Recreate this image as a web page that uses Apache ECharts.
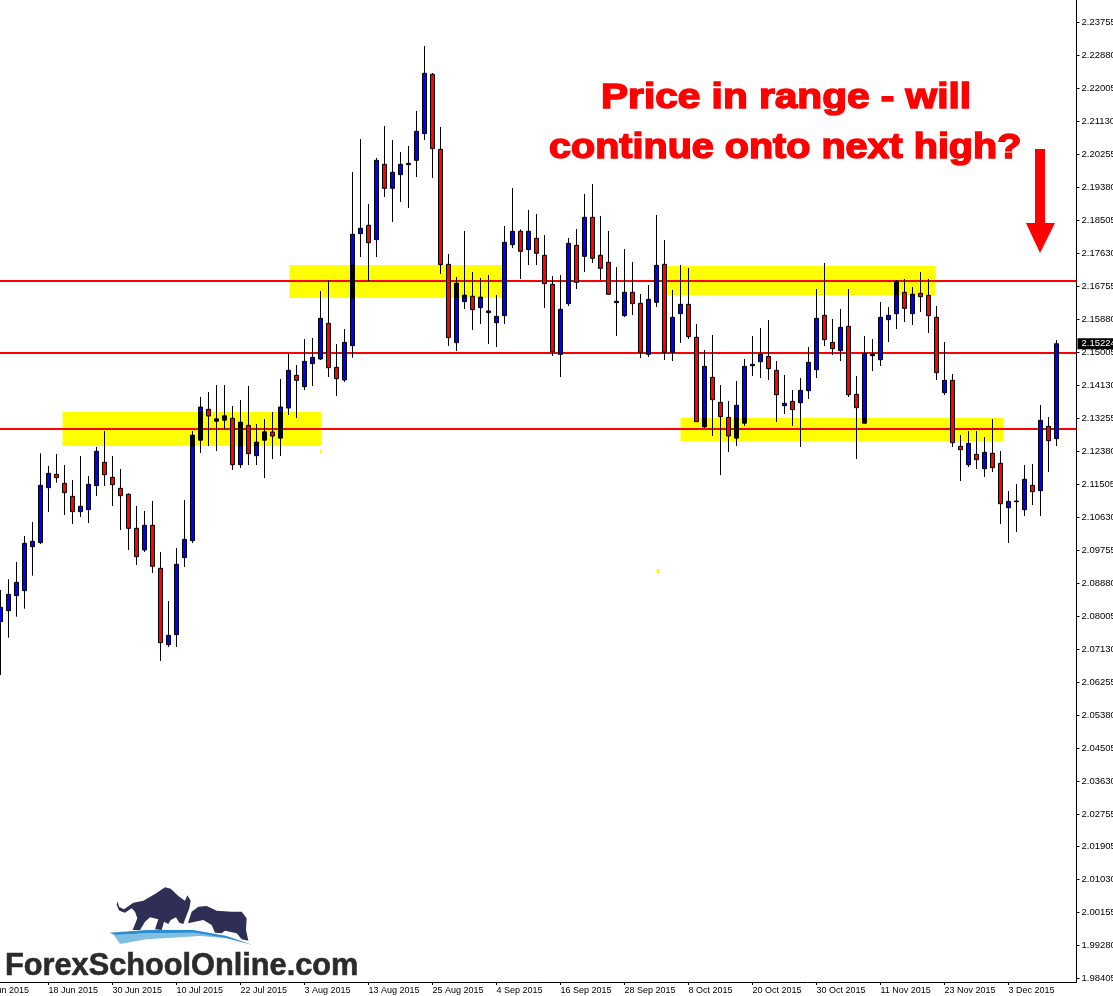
<!DOCTYPE html>
<html>
<head>
<meta charset="utf-8">
<title>Price in range</title>
<script src="https://cdn.jsdelivr.net/npm/echarts@6/dist/echarts.min.js"></script>
<style>
  html, body { margin: 0; padding: 0; background: #fff; overflow: hidden; }
  #chart { width: 1113px; height: 996px; }
</style>
</head>
<body>
<div id="chart"></div>
<script>
// daily candles, one row = 8 bars
const opens = [
  2.07855,2.08147,2.08545,2.08677,2.09844,2.09950,2.11408,2.11762,
  2.11523,2.11179,2.10772,2.10825,2.11461,2.12080,2.11682,2.11391,
  2.11232,2.10330,2.09756,2.10410,2.09270,2.07246,2.07511,2.09552,
  2.10003,2.12671,2.13485,2.13175,2.13202,2.13246,2.12017,2.13060,
  2.12256,2.12671,2.12884,2.12725,2.13520,2.14386,2.14086,2.14695,
  2.14819,2.15765,2.14598,2.14262,2.15174,2.18143,2.18364,2.17984,
  2.19981,2.19345,2.19707,2.19973,2.20087,2.20795,2.22368,2.20379,
  2.17330,2.15253,2.16340,2.16482,2.16181,2.16049,2.15783,2.15969,
  2.17851,2.18205,2.17719,2.18019,2.17569,2.16800,2.14944,2.16287,
  2.17834,2.17542,2.18576,2.17569,2.17383,2.16314,2.15969,2.16588,
  2.16296,2.14944,2.16322,2.17330,2.14997,2.16022,2.16269,2.15394,
  2.13025,2.14333,2.13670,2.13272,2.12725,2.13122,2.14642,2.14748,
  2.14890,2.14519,2.13582,2.13697,2.13661,2.13980,2.14536,2.15977,
  2.15261,2.15040,2.15685,2.13882,2.13122,2.14907,2.14801,2.15862,
  2.16021,2.16587,2.16021,2.16560,2.16507,2.15924,2.13926,2.14253,
  2.12504,2.12017,2.12291,2.11911,2.12318,2.12053,2.10877,2.11036,
  2.10824,2.11469,2.11328,2.13034,2.12707
];
const closes = [
  2.08235,2.08580,2.08898,2.09932,2.09985,2.11470,2.11788,2.11673,
  2.11276,2.10772,2.10913,2.11497,2.12372,2.11753,2.11488,2.11196,
  2.10330,2.09579,2.10410,2.09323,2.07299,2.07493,2.09376,2.10038,
  2.12796,2.13546,2.13308,2.13228,2.13308,2.12017,2.13140,2.12309,
  2.12610,2.12884,2.12778,2.13546,2.14519,2.14253,2.14757,2.14863,
  2.15897,2.14589,2.14298,2.15261,2.18125,2.18285,2.17904,2.20087,
  2.19345,2.19769,2.19981,2.20008,2.20856,2.22394,2.20397,2.17321,
  2.15386,2.16826,2.16508,2.16128,2.16455,2.16093,2.15951,2.17913,
  2.18205,2.17675,2.18205,2.17622,2.16817,2.15014,2.16137,2.17887,
  2.16853,2.18576,2.17489,2.17224,2.16535,2.16349,2.16588,2.16287,
  2.14997,2.16402,2.17303,2.14997,2.15925,2.16269,2.15412,2.13158,
  2.14625,2.13741,2.13290,2.12778,2.13591,2.14625,2.14678,2.14943,
  2.14563,2.13873,2.13644,2.13476,2.13988,2.14731,2.15897,2.15332,
  2.15093,2.15659,2.13873,2.13529,2.14969,2.14943,2.15924,2.15977,
  2.16878,2.16162,2.16534,2.16472,2.15968,2.14457,2.14253,2.12601,
  2.12415,2.12583,2.12150,2.12344,2.11938,2.10983,2.11045,2.11054,
  2.11629,2.11302,2.13193,2.12654,2.15224
];
const lows = [
  2.06441,2.07431,2.07988,2.08200,2.09075,2.09915,2.10763,2.11541,
  2.10684,2.10445,2.10631,2.10471,2.11187,2.11453,2.10922,2.10286,
  2.09756,2.09358,2.09703,2.09146,2.06813,2.07184,2.07184,2.09305,
  2.09941,2.12327,2.12512,2.12380,2.12954,2.11876,2.11929,2.12009,
  2.12009,2.11664,2.12168,2.12247,2.13334,2.13255,2.13997,2.14103,
  2.14793,2.14342,2.13838,2.14209,2.14855,2.17524,2.16888,2.17524,
  2.19115,2.18453,2.18983,2.18824,2.19646,2.20627,2.19619,2.17074,
  2.15165,2.15032,2.16146,2.15589,2.15748,2.15218,2.15138,2.15748,
  2.17763,2.16941,2.17312,2.17312,2.16172,2.14900,2.14343,2.16225,
  2.16676,2.17127,2.17365,2.16915,2.16517,2.15430,2.15934,2.15987,
  2.14847,2.14873,2.16199,2.14793,2.14767,2.15244,2.15350,2.13158,
  2.12990,2.12778,2.11743,2.12353,2.12512,2.13043,2.14368,2.14315,
  2.14262,2.13149,2.13361,2.13043,2.12486,2.13759,2.14315,2.15164,
  2.14925,2.14766,2.13812,2.12168,2.13122,2.14501,2.14634,2.15270,
  2.15615,2.15800,2.15721,2.16065,2.15508,2.14262,2.13865,2.12486,
  2.11584,2.11956,2.11903,2.11690,2.11823,2.10444,2.09941,2.10232,
  2.10656,2.10948,2.10656,2.11823,2.12512
];
const highs = [
  2.08695,2.08978,2.09438,2.10127,2.10498,2.12319,2.11983,2.12301,
  2.12009,2.11612,2.12248,2.11718,2.12487,2.12911,2.12248,2.11903,
  2.11258,2.10922,2.10790,2.11055,2.09703,2.08403,2.09809,2.11081,
  2.12911,2.13812,2.13944,2.14130,2.14130,2.13573,2.13732,2.14103,
  2.13096,2.13228,2.13414,2.14289,2.14952,2.14660,2.15349,2.15376,
  2.16622,2.16914,2.15217,2.15615,2.19778,2.20653,2.18930,2.20149,
  2.20998,2.20627,2.20308,2.20467,2.21396,2.23119,2.22403,2.20971,
  2.17604,2.16994,2.18214,2.17127,2.16968,2.17047,2.16517,2.18346,
  2.19354,2.18258,2.18771,2.18665,2.18108,2.17021,2.17047,2.18028,
  2.18267,2.19195,2.19460,2.18611,2.18214,2.17259,2.17737,2.17392,
  2.16543,2.16782,2.18638,2.17975,2.16649,2.17312,2.17233,2.15747,
  2.15058,2.15455,2.14130,2.13706,2.14236,2.14819,2.15429,2.15641,
  2.15853,2.14766,2.14395,2.13997,2.14315,2.15137,2.16675,2.17364,
  2.15880,2.16145,2.16675,2.14368,2.15429,2.15349,2.16330,2.16198,
  2.16914,2.16940,2.16728,2.17126,2.16940,2.16224,2.15270,2.14421,
  2.12804,2.12910,2.12910,2.12751,2.13228,2.12380,2.11319,2.11505,
  2.12009,2.12035,2.13599,2.13281,2.15323
];

const priceTicks = [
  2.23755,2.22880,2.22005,2.21130,2.20255,2.19380,2.18505,2.17630,2.16755,2.15880,
  2.15005,2.14130,2.13255,2.12380,2.11505,2.10630,2.09755,2.08880,2.08005,2.07130,
  2.06255,2.05380,2.04505,2.03630,2.02755,2.01905,2.01030,2.00155,1.99280,1.98405
];
const levelLines = [2.16895, 2.14986, 2.12971];
const lastPrice = 2.15224;

// yellow zones: slot start, slot end, upper price, lower price
const zoneStart = [10.25, 38.625, 85.875, 87.5];
const zoneEnd   = [42.625, 65.375, 119.375, 127.875];
const zoneTop   = [2.13414, 2.17312, 2.17285, 2.13255];
const zoneBot   = [2.12513, 2.16437, 2.16516, 2.12645];
// two stray yellow specks left on the chart
const speckStart = [42.44, 84.5];
const speckEnd   = [42.625, 84.875];
const speckTop   = [2.12433, 2.09251];
const speckBot   = [2.12327, 2.09145];

const LEAD = 2;   // bars before the first visible candle
const TRAIL = 2;  // empty room before the price scale
const SLOTS = LEAD + opens.length + TRAIL;

const MONTHS = ['Jan','Feb','Mar','Apr','May','Jun','Jul','Aug','Sep','Oct','Nov','Dec'];
const categories = [];
for (let d = new Date(Date.UTC(2015, 5, 8)); categories.length < SLOTS; d.setUTCDate(d.getUTCDate() + 1)) {
  const wd = d.getUTCDay();
  if (wd === 0 || wd === 6) continue;
  categories.push(`${d.getUTCDate()} ${MONTHS[d.getUTCMonth()]} ${d.getUTCFullYear()}`);
}

const EMPTY = ['-', '-', '-', '-'];
const pad = rows => [...Array(LEAD).fill(EMPTY), ...rows, ...Array(TRAIL).fill(EMPTY)];

const candles = pad(opens.map((o, i) => [o, closes[i], lows[i], highs[i]]));

// blue bodies turn black where they sit on a yellow zone
const blackParts = pad(opens.map((o, i) => {
  const c = closes[i];
  if (c <= o) return EMPTY;
  const slot = LEAD + i + 0.5;
  for (let z = 0; z < zoneStart.length; z++) {
    if (slot < zoneStart[z] || slot > zoneEnd[z]) continue;
    const lo = Math.max(o, zoneBot[z]), hi = Math.min(c, zoneTop[z]);
    if (hi > lo) return [lo, hi, lo, hi];
  }
  return EMPTY;
}));

const zoneRows = [
  ...zoneStart.map((s, i) => [s, zoneEnd[i], zoneTop[i], zoneBot[i]]),
  ...speckStart.map((s, i) => [s, speckEnd[i], speckTop[i], speckBot[i]]),
];

const FONT = '"Liberation Sans", sans-serif';
const RED = '#ff0000';
// every 8th bar gets a date; the last one would fall under the price scale
const showDate = i => i % 8 === 0 && i < SLOTS - TRAIL - 2;

const chart = echarts.init(document.getElementById('chart'), null, { renderer: 'canvas' });

function poly(points, fill) {
  return { type: 'polygon', shape: { points }, style: { fill }, silent: true };
}

chart.setOption({
  animation: false,
  backgroundColor: '#fff',
  grid: { left: -19.5, top: 0, width: 1096, height: 982, outerBoundsMode: 'none', containLabel: false },
  xAxis: [
    {
      type: 'category', data: categories, boundaryGap: true,
      axisLine: { lineStyle: { color: '#000', width: 1 } },
      axisTick: { show: true, alignWithLabel: true, interval: showDate, length: 3, lineStyle: { color: '#000' } },
      axisLabel: { fontFamily: FONT, fontSize: 9, color: '#000', interval: showDate, align: 'left', margin: 4, hideOverlap: false },
      splitLine: { show: false },
    },
    { type: 'value', min: 0, max: SLOTS, show: false, splitLine: { show: false } },
  ],
  yAxis: {
    type: 'value', position: 'right', min: 1.98301, max: 2.24338, scale: true,
    axisLine: { show: true, onZero: false, lineStyle: { color: '#000', width: 1 } },
    axisTick: { show: true, length: 3, customValues: priceTicks, lineStyle: { color: '#000' } },
    axisLabel: { fontFamily: FONT, fontSize: 9.5, color: '#000', margin: 5, customValues: priceTicks,
      formatter: v => v.toFixed(5), showMinLabel: true, showMaxLabel: true },
    splitLine: { show: false },
  },
  series: [
    {
      name: 'zones', type: 'custom', xAxisIndex: 1, yAxisIndex: 0, z: 1, silent: true, clip: false,
      data: zoneRows,
      encode: { x: [0, 1], y: [2, 3] },
      renderItem(params, api) {
        const a = api.coord([api.value(0), api.value(2)]);
        const b = api.coord([api.value(1), api.value(3)]);
        return { type: 'rect', shape: { x: a[0], y: a[1], width: b[0] - a[0], height: b[1] - a[1] },
          style: { fill: '#ffff00' } };
      },
    },
    {
      name: 'levels', type: 'line', data: [], z: 2, silent: true,
      markLine: {
        z: 2, silent: true, symbol: 'none', animation: false, precision: 5,
        label: { show: false },
        lineStyle: { color: RED, width: 2, type: 'solid' },
        data: levelLines.map(v => ({ yAxis: v })),
      },
    },
    {
      name: 'price', type: 'candlestick', data: candles, z: 3, barWidth: 5, silent: true,
      itemStyle: { color: '#0000ff', color0: RED, borderColor: '#000', borderColor0: '#000',
        borderColorDoji: '#000', borderWidth: 1 },
      markLine: {
        z: 10, silent: true, symbol: 'none', animation: false, precision: 5,
        lineStyle: { color: 'transparent', width: 1 },
        label: { show: true, position: 'end', distance: 1, formatter: lastPrice.toFixed(5),
          fontFamily: FONT, fontSize: 9.5, color: '#fff',
          backgroundColor: '#000', padding: [1, 6, 0, 4] },
        data: [{ yAxis: lastPrice }],
      },
    },
    {
      name: 'overlap', type: 'candlestick', data: blackParts, z: 4, barWidth: 5, silent: true,
      itemStyle: { color: '#000', color0: '#000', borderColor: '#000', borderColor0: '#000',
        borderColorDoji: '#000', borderWidth: 1 },
    },
  ],
  graphic: [
    // headline
    { type: 'text', x: 601, y: 98, scaleX: 1.16, silent: true, z: 20,
      style: { text: 'Price in range - will', x: 0, y: 0, verticalAlign: 'middle', textAlign: 'left',
        font: 'bold 35px "Liberation Sans"', fill: RED, stroke: RED, lineWidth: 1.5 } },
    { type: 'text', x: 549, y: 148, scaleX: 1.13, silent: true, z: 20,
      style: { text: 'continue onto next high?', x: 0, y: 0, verticalAlign: 'middle', textAlign: 'left',
        font: 'bold 35px "Liberation Sans"', fill: RED, stroke: RED, lineWidth: 1.5 } },
    // arrow
    { ...poly([[1035,149],[1045,149],[1045,223],[1055,223],[1040,253],[1026,223],[1035,223]], RED), z: 20 },
    // logo, drawn in 3x units
    {
      type: 'group', x: 100, y: 880, scaleX: 1 / 3, scaleY: 1 / 3, z: 20, silent: true,
      children: [
        poly([[53,64],[57,80],[72,88],[100,68],[130,62],[165,42],[195,22],[212,26],[235,48],[255,62],[262,46],
          [272,62],[268,85],[258,110],[250,132],[238,128],[228,112],[212,120],[205,132],[192,125],[185,150],
          [165,148],[175,118],[150,112],[135,125],[120,150],[98,150],[112,115],[105,95],[95,85],[75,98],[58,92],[50,75]], '#2f2f55'),
        poly([[265,125],[275,95],[295,80],[320,78],[350,92],[395,95],[425,95],[440,115],[438,150],[445,182],
          [425,178],[410,160],[375,152],[365,160],[345,158],[335,135],[310,120],[285,125],[265,130]], '#2f2f55'),
        poly([[42,165],[140,160],[280,158],[380,175],[300,168],[140,178],[60,192]], '#7fc0e2'),
        poly([[28,158],[140,150],[280,150],[380,168],[458,195],[380,175],[280,158],[140,160],[45,165]], '#2a8fd0'),
      ],
    },
    { type: 'text', x: 5, y: 966, scaleX: 0.96, silent: true, z: 20,
      style: { text: 'ForexSchoolOnline.com', x: 0, y: 0, verticalAlign: 'middle', textAlign: 'left',
        font: 'bold 32px "Liberation Sans"', fill: '#2b2b2b', stroke: '#2b2b2b', lineWidth: 0.6 } },
  ],
});
</script>
</body>
</html>
